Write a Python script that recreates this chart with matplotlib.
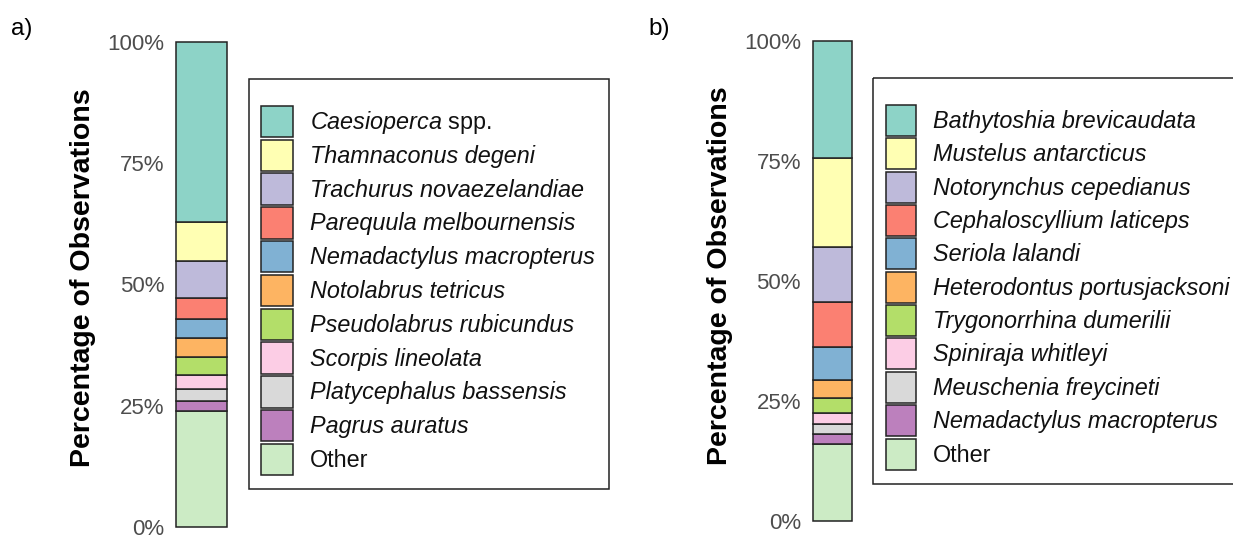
import matplotlib
matplotlib.use("Agg")
import matplotlib.pyplot as plt
from matplotlib.patches import Rectangle

plt.rcParams['font.family'] = ['Liberation Sans', 'DejaVu Sans']
plt.rcParams['mathtext.fontset'] = 'custom'
plt.rcParams['mathtext.rm'] = 'Liberation Sans'
plt.rcParams['mathtext.it'] = 'Liberation Sans:italic'

# ---------------- data ----------------
species_a = [r"$\it{Caesioperca}$ spp.", "Thamnaconus degeni", "Trachurus novaezelandiae",
             "Parequula melbournensis", "Nemadactylus macropterus", "Notolabrus tetricus",
             "Pseudolabrus rubicundus", "Scorpis lineolata", "Platycephalus bassensis",
             "Pagrus auratus", "Other"]
values_a = [37.1, 8.1, 7.6, 4.3, 4.0, 3.9, 3.6, 2.9, 2.4, 2.1, 24.0]
italic_a = [False, True, True, True, True, True, True, True, True, True, False]

species_b = ["Bathytoshia brevicaudata", "Mustelus antarcticus", "Notorynchus cepedianus",
             "Cephaloscyllium laticeps", "Seriola lalandi", "Heterodontus portusjacksoni",
             "Trygonorrhina dumerilii", "Spiniraja whitleyi", "Meuschenia freycineti",
             "Nemadactylus macropterus", "Other"]
values_b = [24.4, 18.5, 11.4, 9.5, 6.8, 3.7, 3.3, 2.2, 2.1, 2.1, 16.0]
italic_b = [True, True, True, True, True, True, True, True, True, True, False]

palette = ["#8DD3C7", "#FFFFB3", "#BEBADA", "#FB8072", "#80B1D3", "#FDB462",
           "#B3DE69", "#FCCDE5", "#D9D9D9", "#BC80BD", "#CCEBC5"]
tick_vals = [0, 25, 50, 75, 100]
tick_labels = ["0%", "25%", "50%", "75%", "100%"]
ylabel = "Percentage of Observations"

W, H = 1233, 535
fig = plt.figure(figsize=(W / 100, H / 100), dpi=100)

def px_axes(left, top, right, bottom):
    return fig.add_axes([left / W, 1 - bottom / H, (right - left) / W, (bottom - top) / H])

def stacked_bar(ax, values):
    cum = 0.0
    for v, c in zip(values[::-1], palette[::-1]):
        ax.bar(0, v, bottom=cum, width=1.0, color=c, edgecolor="#222222",
               linewidth=1.1, clip_on=False)
        cum += v
    ax.set_xlim(-0.5, 0.5)
    ax.set_ylim(0, 100)
    ax.set_xticks([])
    ax.set_yticks(tick_vals)
    ax.set_yticklabels(tick_labels, fontsize=16, color="#4D4D4D")
    ax.tick_params(axis="y", length=0, pad=8.5)
    for s in ax.spines.values():
        s.set_visible(False)

ax_a = px_axes(176, 41.7, 227, 527.3)
stacked_bar(ax_a, values_a)
ax_b = px_axes(812.7, 41, 851.7, 521)
stacked_bar(ax_b, values_b)

# overlay for legends and labels (pixel coordinates)
ov = fig.add_axes([0, 0, 1, 1], zorder=5)
ov.set_xlim(0, W)
ov.set_ylim(H, 0)
ov.axis("off")
ov.patch.set_alpha(0)

def legend(box, patch_x, patch_w, first_top, pitch, patch_h, text_x, labels, italics):
    l, t, r, b = box
    ov.add_patch(Rectangle((l, t), r - l, b - t, fill=False, edgecolor="#222222", linewidth=1.1))
    for i, (lab, c, it) in enumerate(zip(labels, palette, italics)):
        y0 = first_top + i * pitch
        ov.add_patch(Rectangle((patch_x, y0), patch_w, patch_h, facecolor=c,
                               edgecolor="#222222", linewidth=1.1))
        ov.text(text_x, y0 + patch_h / 2 + 1, lab, fontsize=16.8, va="center", ha="left",
                style="italic" if it else "normal", color="#111111")

legend((249, 79.3, 609, 489), 260.7, 32, 105.7, 33.8, 31.5, 310, species_a, italic_a)
legend((873.3, 78.3, 1300, 484.3), 886, 30, 105, 33.35, 31, 932.7, species_b, italic_b)

fig.text(83 / W, 1 - 277.5 / H, ylabel, rotation=90, fontsize=20.5, fontweight="bold",
         ha="center", va="center", color="black")
fig.text(720 / W, 1 - 276 / H, ylabel, rotation=90, fontsize=20.5, fontweight="bold",
         ha="center", va="center", color="black")
fig.text(11 / W, 1 - 29 / H, "a)", fontsize=17.5, ha="left", va="center", color="black")
fig.text(648 / W, 1 - 29 / H, "b)", fontsize=17.5, ha="left", va="center", color="black")

fig.savefig("out.png", dpi=100)
